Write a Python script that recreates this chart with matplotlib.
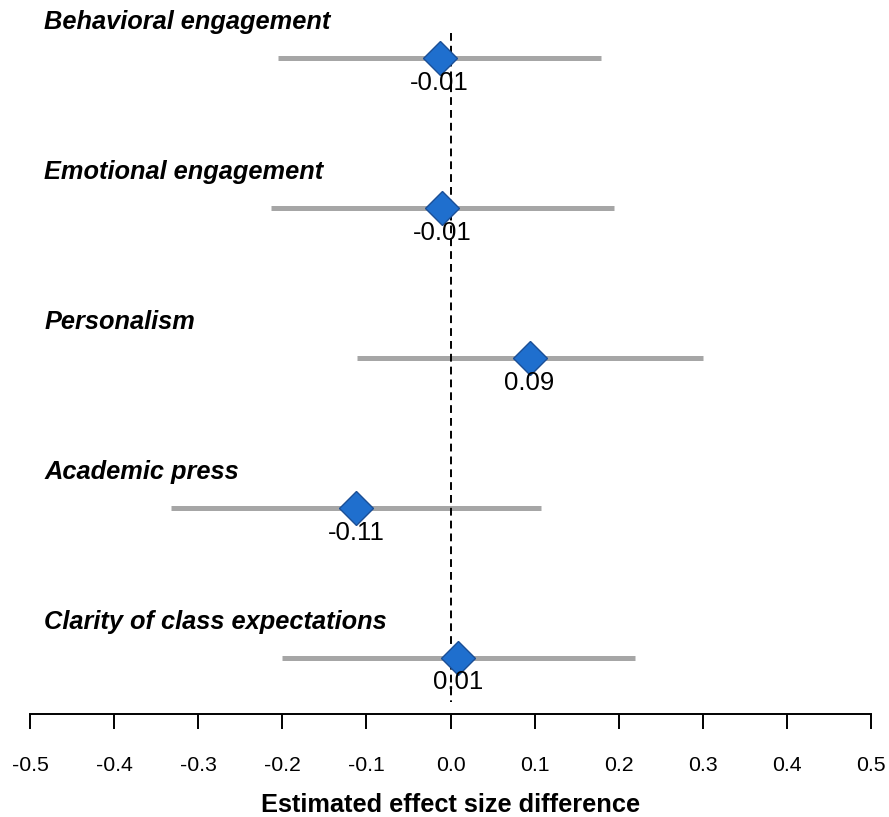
import matplotlib
matplotlib.use("Agg")
import matplotlib.pyplot as plt

plt.rcParams["font.family"] = ["Liberation Sans", "DejaVu Sans"]

# ─── Dados ────────────────────────────────────────────────────────────────────
categorias = ["Behavioral engagement", "Emotional engagement", "Personalism",
              "Academic press", "Clarity of class expectations"]
estimativas = [-0.013, -0.010, 0.094, -0.112, 0.009]
ic_inferior = [-0.205, -0.214, -0.111, -0.332, -0.200]
ic_superior = [0.179, 0.194, 0.300, 0.108, 0.219]
rotulos = ["-0.01", "-0.01", "0.09", "-0.11", "0.01"]
ticks_x = [-0.5, -0.4, -0.3, -0.2, -0.1, 0.0, 0.1, 0.2, 0.3, 0.4, 0.5]

AZUL = "#1f6fce"
AZUL_BORDA = "#1b4f96"
CINZA = "#a6a6a6"

fig = plt.figure(figsize=(8.89, 8.17), dpi=100)
ax = fig.add_axes([30 / 889, 103 / 817, 841 / 889, 714 / 817])

for i, (nome, est, lo, hi, rot) in enumerate(zip(categorias, estimativas, ic_inferior, ic_superior, rotulos)):
    ax.plot([lo, hi], [i, i], color=CINZA, lw=3.6, solid_capstyle="butt", zorder=2)
    ax.plot(est, i, marker="D", ms=17.5, color=AZUL, mec=AZUL_BORDA, mew=1.0, zorder=4)
    ax.text(est, i + 0.165, rot, ha="center", va="center", fontsize=18.5, zorder=5)
    ax.text(-0.483, i - 0.24, nome, ha="left", va="center", fontsize=18.3,
            fontweight="bold", fontstyle="italic")

ax.plot([0, 0], [-0.17, 4.296], color="black", lw=1.4, ls=(0, (4, 2.6)), zorder=3)

ax.set_xlim(-0.5, 0.5)
ax.set_ylim(4.376, -0.39)
ax.set_xticks(ticks_x)
ax.set_xticklabels([f"{t:.1f}" for t in ticks_x], fontsize=15.3)
ax.tick_params(axis="x", length=10.5, width=1.4, pad=20)
ax.set_yticks([])
for lado in ["top", "left", "right"]:
    ax.spines[lado].set_visible(False)
ax.spines["bottom"].set_linewidth(1.4)
ax.set_xlabel("Estimated effect size difference", fontsize=18.3, fontweight="bold", labelpad=13)

fig.savefig("out.png", dpi=100)
